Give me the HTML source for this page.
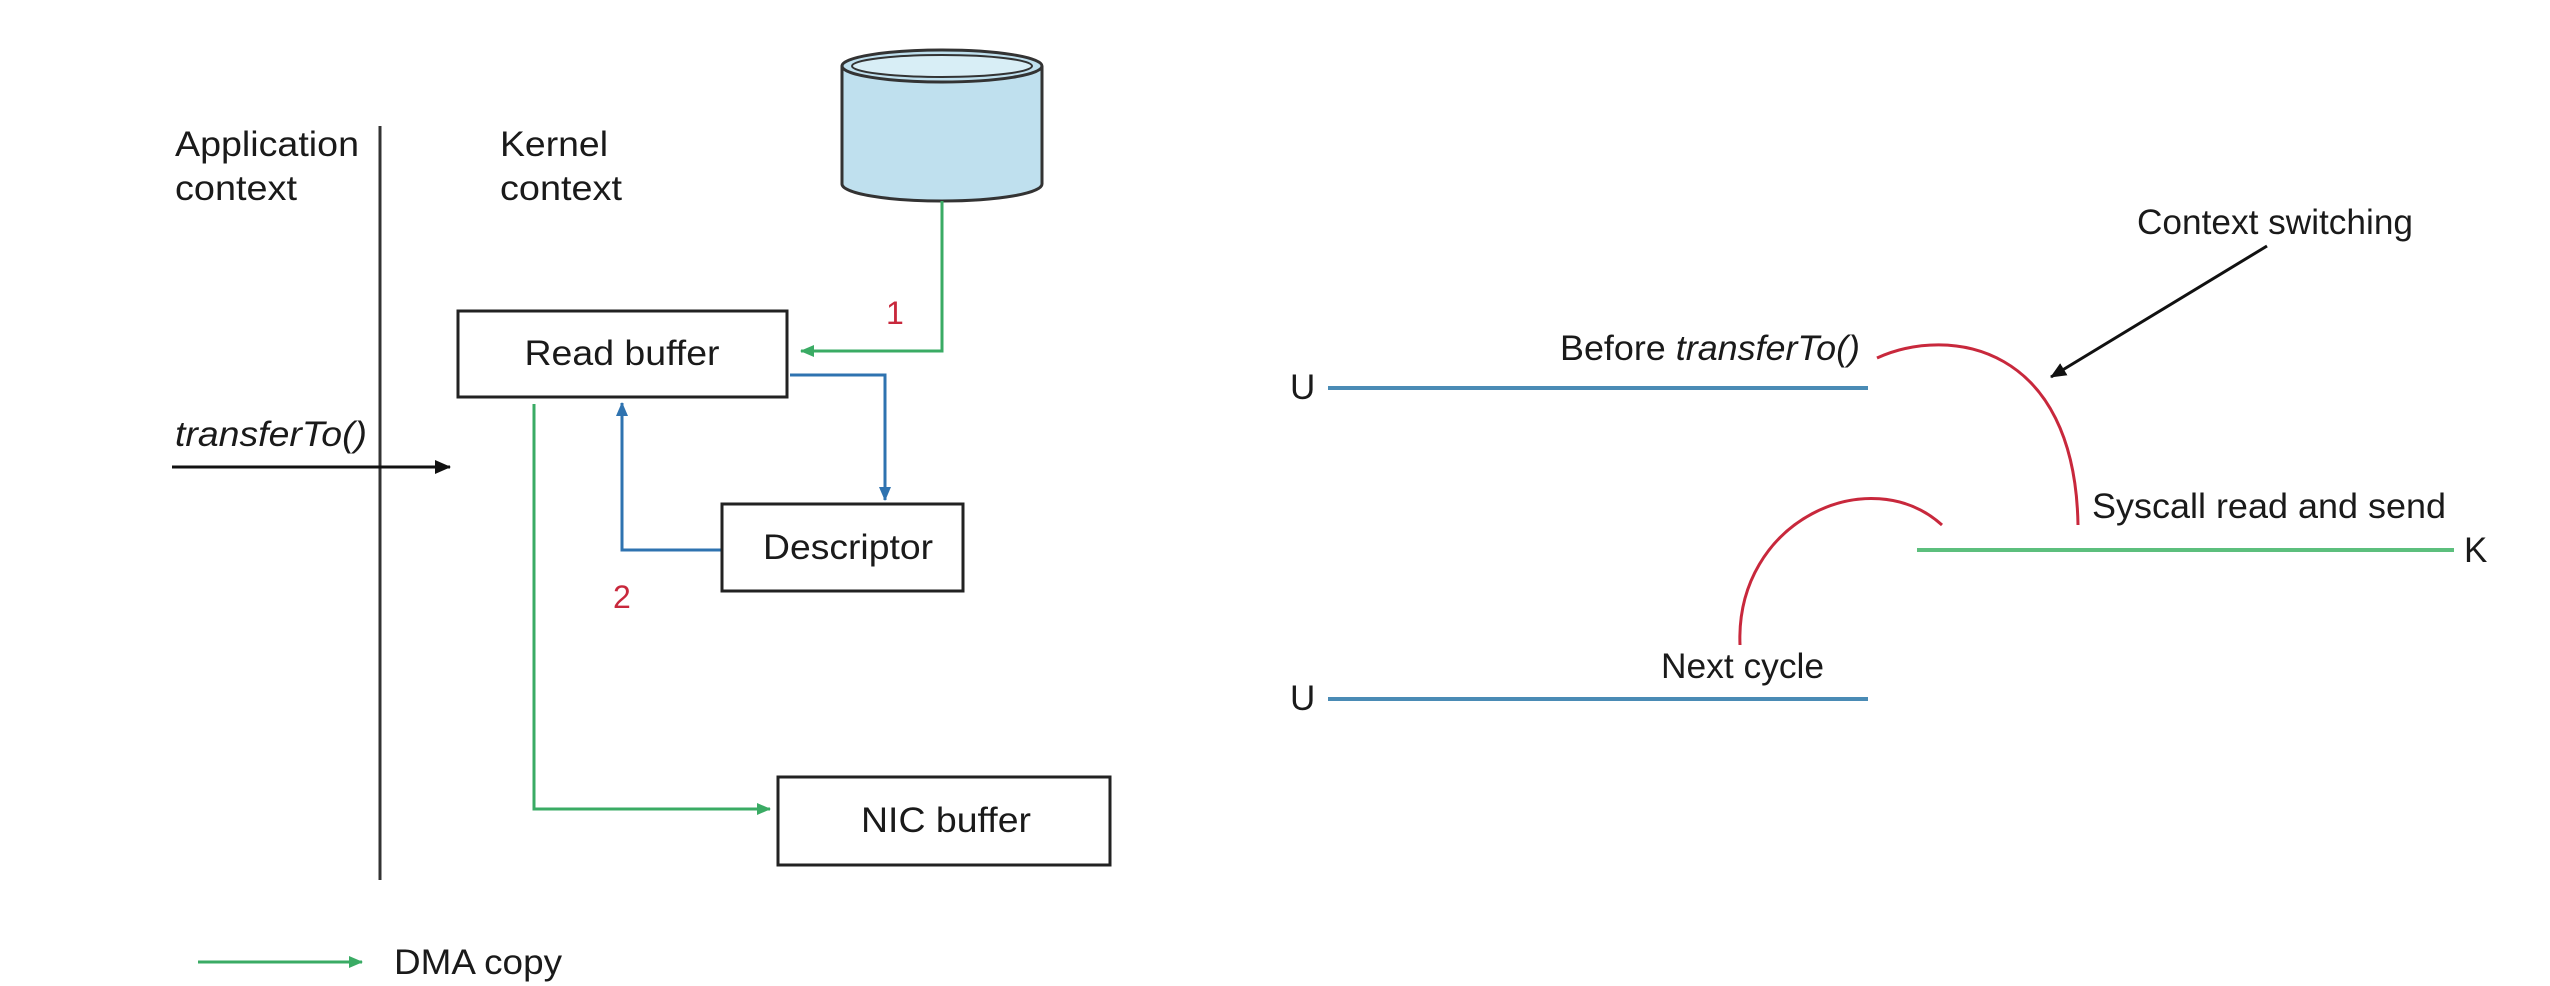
<!DOCTYPE html>
<html><head><meta charset="utf-8"><style>
html,body{margin:0;padding:0;background:#fff;}
svg{display:block;}
text{font-family:"Liberation Sans",Arial,sans-serif;fill:#1a1a1a;}
</style></head><body>
<svg width="2550" height="986" viewBox="0 0 2550 986" xmlns="http://www.w3.org/2000/svg">
<defs>
<marker id="ag" markerWidth="14" markerHeight="12" refX="13" refY="6" orient="auto" markerUnits="userSpaceOnUse"><path d="M0,0 L14,6 L0,12 z" fill="#3aab64"/></marker>
<marker id="ab" markerWidth="14" markerHeight="12" refX="13" refY="6" orient="auto" markerUnits="userSpaceOnUse"><path d="M0,0 L14,6 L0,12 z" fill="#2f73b0"/></marker>
<marker id="ak" markerWidth="16" markerHeight="14" refX="15" refY="7" orient="auto" markerUnits="userSpaceOnUse"><path d="M0,0 L16,7 L0,14 z" fill="#111"/></marker>
</defs>

<line x1="380" y1="126" x2="380" y2="880" stroke="#333" stroke-width="3"/>
<text x="175" y="156" font-size="35" textLength="184" lengthAdjust="spacingAndGlyphs">Application</text>
<text x="175" y="200" font-size="35" textLength="122" lengthAdjust="spacingAndGlyphs">context</text>
<text x="500" y="156" font-size="35" textLength="108" lengthAdjust="spacingAndGlyphs">Kernel</text>
<text x="500" y="200" font-size="35" textLength="122" lengthAdjust="spacingAndGlyphs">context</text>

<path d="M842,66 L842,184 A100,17 0 0 0 1042,184 L1042,66" fill="#bfe0ee" stroke="#333" stroke-width="3"/>
<ellipse cx="942" cy="66" rx="100" ry="16" fill="#bfe0ee" stroke="#333" stroke-width="3"/>
<ellipse cx="942" cy="66" rx="90" ry="11" fill="#d8eef6" stroke="#333" stroke-width="2"/>

<polyline points="942,201 942,351 801,351" fill="none" stroke="#3aab64" stroke-width="3" marker-end="url(#ag)"/>
<text x="886" y="324" font-size="32" style="fill:#c8283c">1</text>

<rect x="458" y="311" width="329" height="86" fill="#fff" stroke="#222" stroke-width="3"/>
<text x="622" y="365" font-size="35" text-anchor="middle" textLength="195" lengthAdjust="spacingAndGlyphs">Read buffer</text>

<polyline points="790,375 885,375 885,500" fill="none" stroke="#2f73b0" stroke-width="3" marker-end="url(#ab)"/>
<polyline points="722,550 622,550 622,403" fill="none" stroke="#2f73b0" stroke-width="3" marker-end="url(#ab)"/>

<rect x="722" y="504" width="241" height="87" fill="#fff" stroke="#222" stroke-width="3"/>
<text x="848" y="559" font-size="35" text-anchor="middle" textLength="170" lengthAdjust="spacingAndGlyphs">Descriptor</text>
<text x="613" y="608" font-size="32" style="fill:#c8283c">2</text>

<text x="175" y="446" font-size="35" font-style="italic" textLength="192" lengthAdjust="spacingAndGlyphs">transferTo()</text>
<line x1="172" y1="467" x2="450" y2="467" stroke="#111" stroke-width="3" marker-end="url(#ak)"/>

<polyline points="534,404 534,809 770,809" fill="none" stroke="#3aab64" stroke-width="3" marker-end="url(#ag)"/>
<rect x="778" y="777" width="332" height="88" fill="#fff" stroke="#222" stroke-width="3"/>
<text x="946" y="832" font-size="35" text-anchor="middle" textLength="170" lengthAdjust="spacingAndGlyphs">NIC buffer</text>

<line x1="198" y1="962" x2="362" y2="962" stroke="#3aab64" stroke-width="3" marker-end="url(#ag)"/>
<text x="394" y="974" font-size="35" textLength="168" lengthAdjust="spacingAndGlyphs">DMA copy</text>

<text x="1290" y="399" font-size="35">U</text>
<line x1="1328" y1="388" x2="1868" y2="388" stroke="#4a8bb5" stroke-width="4"/>
<text x="1860" y="360" font-size="35" text-anchor="end" textLength="300" lengthAdjust="spacingAndGlyphs">Before <tspan font-style="italic">transferTo()</tspan></text>
<path d="M1877,358 C1950,325 2075,345 2078,525" fill="none" stroke="#c8283c" stroke-width="3"/>
<text x="2137" y="234" font-size="35" textLength="276" lengthAdjust="spacingAndGlyphs">Context switching</text>
<line x1="2267" y1="246" x2="2051" y2="377" stroke="#111" stroke-width="3" marker-end="url(#ak)"/>
<text x="2092" y="518" font-size="35" textLength="354" lengthAdjust="spacingAndGlyphs">Syscall read and send</text>
<line x1="1917" y1="550" x2="2454" y2="550" stroke="#5cbf7d" stroke-width="4"/>
<text x="2464" y="562" font-size="35">K</text>
<path d="M1740,645 C1735,520 1870,460 1942,525" fill="none" stroke="#c8283c" stroke-width="3"/>
<text x="1661" y="678" font-size="35" textLength="163" lengthAdjust="spacingAndGlyphs">Next cycle</text>
<text x="1290" y="710" font-size="35">U</text>
<line x1="1328" y1="699" x2="1868" y2="699" stroke="#4a8bb5" stroke-width="4"/>
</svg>
</body></html>
